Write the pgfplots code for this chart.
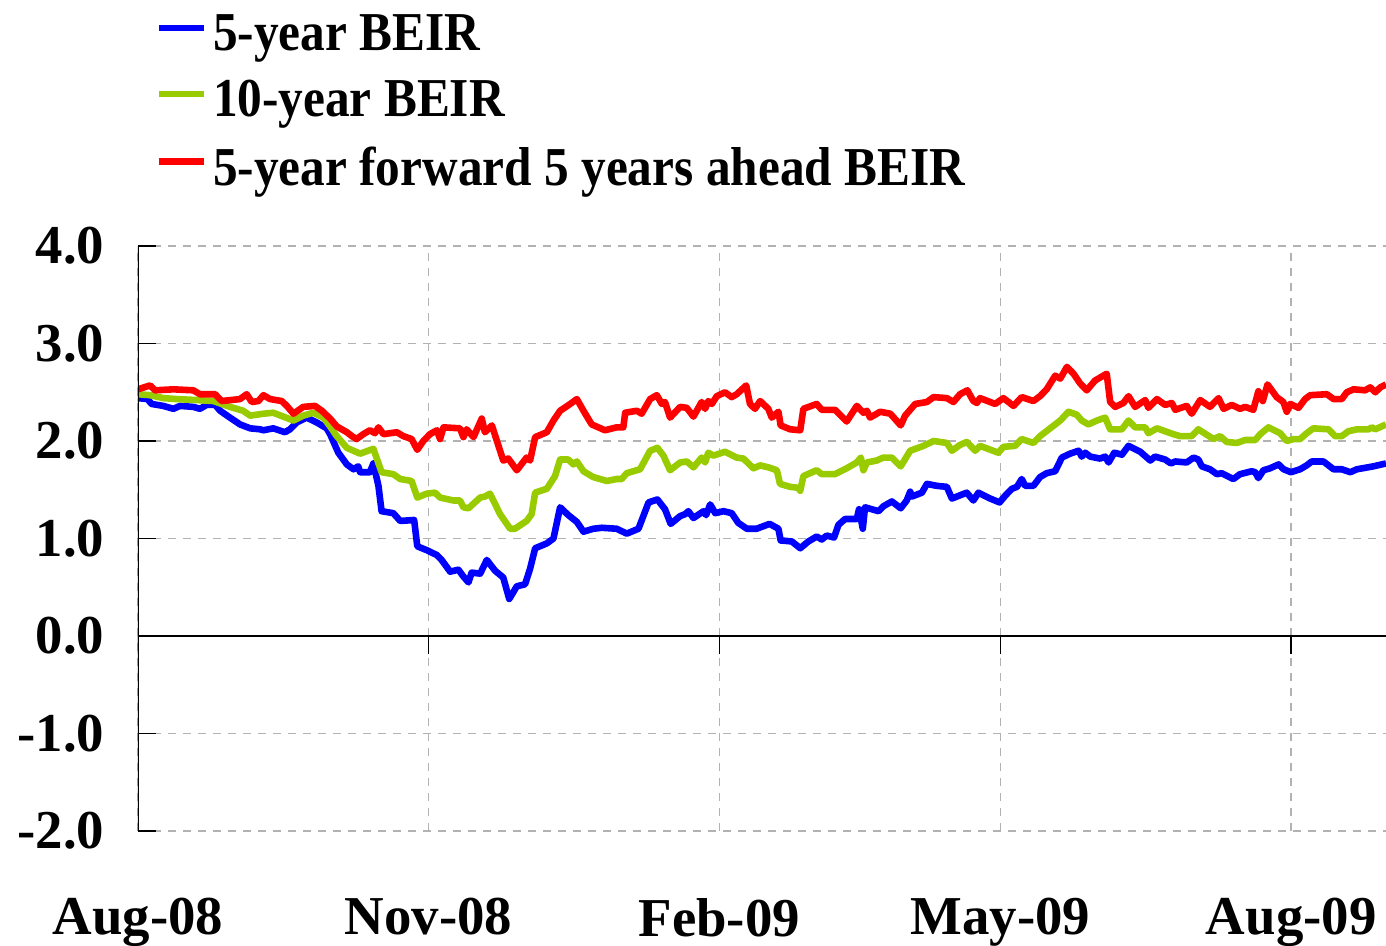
\documentclass[border=0pt]{standalone}
\usepackage{fontspec}
\setmainfont{Liberation Serif}
\newfontfamily\legendfam{Liberation Serif}[FakeStretch=0.9]
\usepackage{pgfplots}
\pgfplotsset{compat=1.18}
\definecolor{beirBlue}{RGB}{0,0,255}
\definecolor{beirGreen}{RGB}{153,204,0}
\definecolor{beirRed}{RGB}{255,0,0}
\newcommand{\chartfont}{\fontsize{27.4}{30}\selectfont\bfseries}
\newcommand{\legendfont}{\legendfam\fontsize{27.4}{30}\selectfont\bfseries}

% x = days since 1 Aug 2008
\begin{document}
\begin{tikzpicture}
\begin{axis}[
    name=ax,
    scale only axis,
    width=624pt, height=292.5pt,
    xmin=0, xmax=395, ymin=-2, ymax=4,
    axis line style={draw=none},
    xtick={0,92,184,273,365},
    xticklabels={Aug-08,Nov-08,Feb-09,May-09,Aug-09},
    ytick={-2,-1,0,1,2,3,4},
    yticklabels={-2.0,-1.0,0.0,1.0,2.0,3.0,4.0},
    ytick pos=left, xtick pos=bottom,
    tick align=inside,
    major tick length=9pt,
    xtick style={draw=none},
    ytick style={black, line width=0.8pt},
    grid=major,
    major grid style={gray!60, line width=0.75pt, dash pattern=on 4pt off 3.5pt},
    tick label style={font=\chartfont},
    xticklabel style={yshift=-30pt},
    yticklabel style={xshift=-13.4pt},
    legend cell align=left,
    legend style={draw=none, fill=none, inner sep=0pt, font=\legendfont,
        at={(axis description cs:0,1)}, anchor=north west,
        xshift=8.5pt, yshift=116pt, row sep=13.5pt, column sep=3pt,
        nodes={inner sep=0pt}},
    legend image code/.code={\draw[#1] (0pt,0.3em) -- (22.5pt,0.3em);},
    every axis plot/.append style={line width=3.3pt, line join=round},
]
\addplot[beirBlue] coordinates {
(0,2.44) (3,2.43) (4.3,2.38) (8,2.36) (11.2,2.33) (13.3,2.36) (17.5,2.35)
(19.6,2.33) (21.7,2.37) (24.4,2.37) (26,2.31) (29.1,2.24) (32.3,2.17)
(35.5,2.13) (38.6,2.12) (39.7,2.11) (42.8,2.13) (46.5,2.09) (48.1,2.12)
(50.2,2.19) (53.4,2.24) (56.6,2.19) (59.7,2.13) (60.8,2.07) (63.4,1.88)
(66.1,1.76) (68.2,1.71) (69.7,1.74) (70.3,1.68) (73.4,1.68) (74.5,1.77)
(76.1,1.54) (77.1,1.28) (80.8,1.26) (83,1.18) (87.4,1.19) (88.4,0.92)
(91.4,0.88) (94.6,0.83) (96.1,0.78) (98.8,0.66) (101.4,0.68) (103,0.61)
(104.6,0.55) (105.6,0.65) (108.3,0.64) (110.4,0.78) (113,0.67) (115.6,0.60)
(117.5,0.38) (119.9,0.51) (122.5,0.53) (124.1,0.69) (125.7,0.90) (129.4,0.95)
(131.5,1.00) (133.6,1.32) (136.2,1.24) (138.9,1.17) (141,1.07) (144.1,1.10)
(146.8,1.11) (151.5,1.10) (154.7,1.05) (158.4,1.10) (161.6,1.37) (164.4,1.40)
(166.8,1.30) (168.6,1.15) (171.6,1.23) (173.2,1.25) (174.2,1.28) (175.8,1.21)
(179,1.28) (179.8,1.24) (181.1,1.35) (182.7,1.26) (185.3,1.28) (187.9,1.26)
(190,1.16) (192.7,1.10) (195.8,1.10) (199.9,1.15) (202.7,1.10) (203.4,0.98)
(206.9,0.97) (209.6,0.90) (212.2,0.97) (214.8,1.02) (216.4,0.99) (218,1.03)
(220.3,1.01) (221.7,1.14) (223.8,1.20) (227.5,1.20) (228.2,1.30) (229.4,1.10)
(230.1,1.32) (234.4,1.28) (235.9,1.33) (238.6,1.38) (241.4,1.31) (243.3,1.39)
(244.4,1.48) (244.9,1.43) (248.1,1.47) (249.7,1.56) (252.8,1.54) (256,1.53)
(257.6,1.41) (262.3,1.47) (264.4,1.39) (266,1.47) (269.7,1.41) (272.7,1.37)
(274.5,1.44) (276.6,1.51) (278.2,1.53) (279.7,1.61) (280.8,1.54) (283.4,1.54)
(285.5,1.63) (287.6,1.67) (290.3,1.69) (292.4,1.83) (295,1.87) (297.7,1.90)
(298.7,1.84) (299.8,1.88) (301.4,1.84) (304.5,1.82) (306.1,1.84) (307.2,1.78)
(309,1.88) (311.4,1.86) (313.5,1.95) (317.2,1.89) (320.4,1.80) (321.9,1.84)
(325.1,1.81) (326.9,1.77) (328.3,1.79) (331.9,1.78) (334.1,1.83) (335.6,1.81)
(336.7,1.74) (339.3,1.71) (341.5,1.66) (343,1.67) (346.7,1.61) (348.8,1.66)
(352.5,1.69) (353.6,1.68) (354.6,1.62) (356.2,1.70) (358.3,1.72) (361,1.76)
(362.6,1.71) (364.9,1.68) (367.8,1.71) (369.9,1.75) (371.5,1.79) (375.2,1.79)
(378.4,1.71) (381,1.71) (383.7,1.68) (385.8,1.71) (391,1.74) (395,1.77)
};
\addlegendentry{5-year BEIR}
\addplot[beirGreen] coordinates {
(0,2.48) (3.8,2.47) (8,2.44) (12.2,2.43) (18.6,2.42) (23.9,2.41) (29.1,2.35)
(33.3,2.31) (35.5,2.26) (39.7,2.28) (42.8,2.29) (46,2.25) (49.2,2.21)
(52.3,2.26) (55.5,2.29) (58.7,2.24) (60.8,2.15) (62.9,2.05) (66.1,1.93)
(70.3,1.87) (74.5,1.92) (77.1,1.68) (80.8,1.66) (83,1.61) (86.6,1.59)
(88.4,1.42) (91.4,1.46) (94,1.47) (95.6,1.42) (99.8,1.39) (101.9,1.39)
(103,1.32) (104.6,1.31) (108.3,1.42) (109.8,1.43) (111.4,1.46) (114.6,1.25)
(117.8,1.10) (119.3,1.10) (123,1.18) (124.6,1.25) (125.7,1.47) (129.4,1.51)
(132,1.64) (133.6,1.81) (136.2,1.81) (137.8,1.76) (138.9,1.79) (141,1.69)
(144.1,1.63) (148.4,1.59) (151.5,1.61) (153.1,1.61) (154.7,1.67) (158.9,1.71)
(162.1,1.90) (164.4,1.93) (166.3,1.85) (168.4,1.70) (171.6,1.78) (173.7,1.79)
(175.8,1.73) (178.4,1.83) (179.5,1.78) (180.5,1.88) (182.1,1.85) (185.8,1.89)
(189.5,1.83) (191.6,1.82) (194.8,1.72) (196.9,1.75) (199.5,1.73) (202.2,1.70)
(203.2,1.56) (206.4,1.53) (209,1.52) (209.6,1.49) (210.6,1.64) (214.8,1.70)
(216.4,1.66) (220.6,1.66) (224.3,1.72) (227.5,1.78) (228.8,1.83) (229.6,1.70)
(230.7,1.78) (233.8,1.80) (235.9,1.83) (238.6,1.83) (241.4,1.74) (244.4,1.90)
(248.6,1.95) (251.8,2.00) (256,1.98) (257.6,1.90) (260.2,1.96) (262.3,1.99)
(265,1.90) (266.5,1.95) (272.3,1.88) (273.9,1.94) (277.6,1.95) (279.7,2.02)
(283.4,1.98) (285.5,2.05) (288.7,2.13) (291.9,2.21) (294.5,2.30) (297.1,2.27)
(298.7,2.21) (300.8,2.17) (303.5,2.21) (306.1,2.24) (307.7,2.12) (311.4,2.12)
(313.5,2.21) (315.6,2.14) (318.8,2.14) (319.8,2.08) (322.5,2.13) (327.7,2.07)
(329.8,2.05) (333.5,2.05) (335.6,2.12) (340.4,2.02) (342.5,2.05) (344.6,1.99)
(347.8,1.98) (350.4,2.01) (353.6,2.01) (355.2,2.07) (357.8,2.14) (361.5,2.08)
(363.6,2.00) (365.7,2.02) (367.8,2.02) (369.9,2.08) (372,2.13) (376.8,2.12)
(378.9,2.05) (381,2.05) (383.1,2.10) (385.8,2.12) (389.5,2.12) (390.5,2.14)
(391.6,2.12) (395,2.17)
};
\addlegendentry{10-year BEIR}
\addplot[beirRed] coordinates {
(0,2.53) (3.8,2.57) (5.4,2.52) (11.2,2.53) (17.5,2.52) (19.6,2.48) (24.4,2.48)
(26.5,2.41) (32.3,2.43) (34.4,2.48) (36,2.40) (38.1,2.41) (39.7,2.47)
(41.8,2.43) (45.5,2.41) (47.1,2.36) (49.2,2.28) (52.3,2.35) (56,2.36)
(58.2,2.31) (60.8,2.23) (62.9,2.15) (66.1,2.09) (67.7,2.05) (69.2,2.02)
(71.3,2.07) (73.4,2.11) (75,2.08) (76.1,2.14) (77.7,2.07) (81.9,2.09)
(84,2.05) (86.6,2.02) (88.4,1.91) (90.3,2.00) (92.4,2.07) (94.6,2.11)
(95.6,2.02) (96.7,2.14) (101.9,2.13) (103,2.04) (104,2.12) (106.2,2.04)
(108.8,2.23) (109.8,2.09) (112,2.16) (115.6,1.80) (117.2,1.82) (119.9,1.70)
(123,1.83) (124.1,1.80) (125.7,2.04) (129.4,2.09) (131.5,2.21) (133.6,2.31)
(136.8,2.38) (138.9,2.43) (141,2.31) (143.6,2.17) (147.8,2.11) (151.5,2.14)
(153.6,2.14) (154.2,2.29) (157.9,2.31) (159.4,2.28) (162.1,2.43) (164.2,2.47)
(165.8,2.38) (166.8,2.40) (168.4,2.24) (171.6,2.35) (173.7,2.34) (175.8,2.25)
(178.4,2.40) (179.5,2.33) (180.5,2.41) (181.6,2.38) (183.2,2.46) (185.8,2.50)
(187.9,2.45) (189.5,2.48) (192.5,2.57) (193.7,2.38) (195.3,2.33) (196.9,2.41)
(199.5,2.33) (200.6,2.24) (202.7,2.30) (203.4,2.16) (206.4,2.12) (209.6,2.11)
(210.6,2.33) (214.8,2.38) (216.4,2.32) (220.6,2.32) (224.3,2.20) (227.5,2.36)
(229.6,2.29) (230.7,2.31) (231.7,2.24) (234.9,2.30) (238.1,2.28) (241.4,2.16)
(242.8,2.26) (246,2.38) (249.7,2.40) (251.8,2.45) (256,2.44) (258.1,2.40)
(260.2,2.48) (262.5,2.52) (264.4,2.41) (265.5,2.39) (266.5,2.44) (271.3,2.38)
(273.9,2.44) (277.1,2.36) (279.7,2.45) (283.4,2.41) (285.5,2.46) (287.6,2.53)
(290.3,2.67) (291.9,2.64) (294,2.76) (296.1,2.69) (298.2,2.59) (300.3,2.52)
(302.9,2.62) (305,2.66) (306.6,2.69) (307.7,2.40) (309.3,2.35) (311.9,2.39)
(313.5,2.46) (315.6,2.35) (318.8,2.42) (319.8,2.34) (322.5,2.43) (325.1,2.37)
(327.2,2.39) (328.3,2.32) (331.9,2.36) (333.5,2.28) (336.2,2.42) (339.3,2.35)
(342,2.44) (343.6,2.33) (346.2,2.37) (348.8,2.33) (350.4,2.35) (353,2.32)
(354.6,2.51) (356,2.41) (357.5,2.58) (360.4,2.45) (362.5,2.40) (363.6,2.30)
(364.7,2.38) (367.3,2.34) (369.4,2.43) (371,2.47) (376.3,2.48) (378.4,2.43)
(381,2.43) (382.6,2.50) (384.7,2.53) (388.4,2.52) (390,2.55) (391.6,2.50)
(393.2,2.55) (395,2.58)
};
\addlegendentry{5-year forward 5 years ahead BEIR}
% axis lines: left line and zero line with month ticks below it
\draw[black, line width=0.8pt] (rel axis cs:0,0) -- (rel axis cs:0,1);
\draw[black, line width=0.8pt] (axis cs:0,0) -- (axis cs:395,0);
\draw[black, line width=0.8pt] (axis cs:0,0) -- ++(0pt,-9pt);
\draw[black, line width=0.8pt] (axis cs:92,0) -- ++(0pt,-9pt);
\draw[black, line width=0.8pt] (axis cs:184,0) -- ++(0pt,-9pt);
\draw[black, line width=0.8pt] (axis cs:273,0) -- ++(0pt,-9pt);
\draw[black, line width=0.8pt] (axis cs:365,0) -- ++(0pt,-9pt);
\end{axis}
\pgfresetboundingbox
\path ([xshift=-69pt, yshift=-57.5pt]ax.south west) rectangle ([yshift=123pt]ax.north east);
\end{tikzpicture}
\end{document}
